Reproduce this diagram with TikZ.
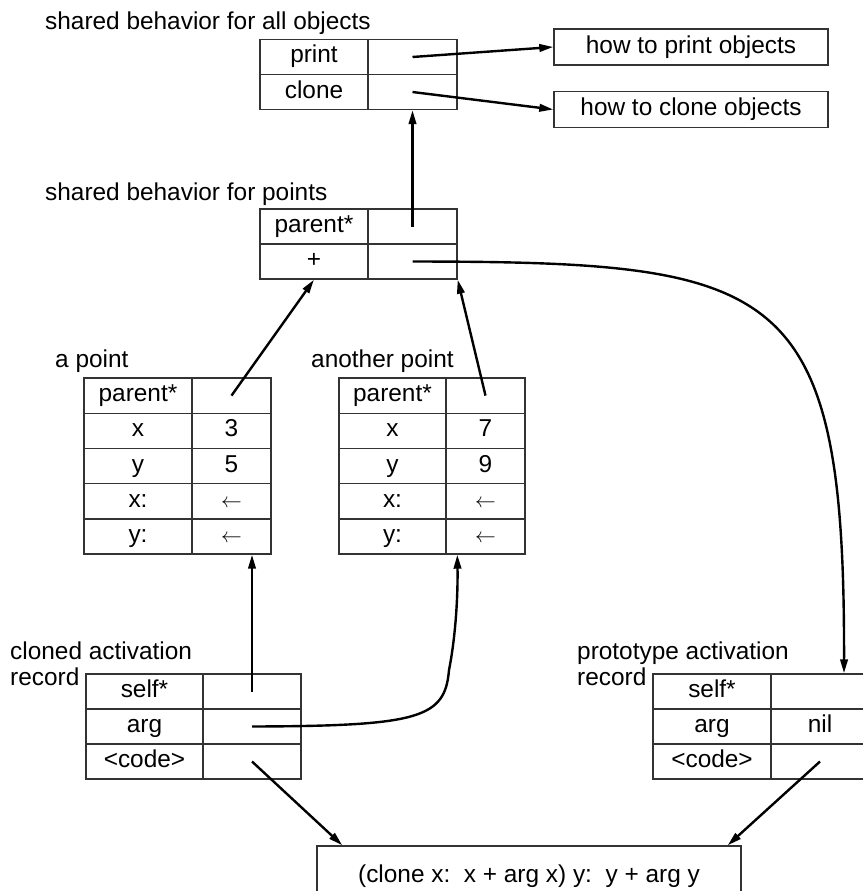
\documentclass[tikz,border=0pt]{standalone}
\usepackage{fontspec}
\setmainfont{Liberation Sans}
\usetikzlibrary{arrows.meta}

% one row of a slot table: name, x left, x middle, x right, y top, y bottom, slot name, slot value
\newcommand\slotrow[8]{%
  \node[cell, minimum width={(#3-#2)*1pt}, minimum height={(#6-#5)*1pt}]
    (#1-k) at ({(#2+#3)/2},{(#5+#6)/2}) {#7};
  \node[cell, minimum width={(#4-#3)*1pt}, minimum height={(#6-#5)*1pt}]
    (#1-v) at ({(#3+#4)/2},{(#5+#6)/2}) {#8};
}
\newcommand\larr{{\fontsize{21}{21}\selectfont$\leftarrow$}}

\begin{document}
\begin{tikzpicture}[x=1pt, y=-1pt,
  every node/.style={font=\fontsize{24.4}{26}\selectfont, text=black},
  cell/.style={draw=black!80, line width=1.4pt, rectangle, inner sep=0pt,
    text height=17pt, text depth=5pt},
  boxnode/.style={draw=black!80, line width=1.4pt, rectangle, inner sep=0pt,
    text height=17pt, text depth=5pt},
  lbl/.style={anchor=base west, inner sep=0pt},
  arr/.style={line width=2.4pt, -{Triangle[length=14pt, width=7.5pt]}}]

\useasboundingbox (0,0) rectangle (862,891);

% shared behavior for all objects
\node[lbl] (l1) at (45,30) {shared behavior for all objects};
\slotrow{ta1}{260}{368}{457}{39.5}{74.5}{print}{}
\slotrow{ta2}{260}{368}{457}{74.5}{109.5}{clone}{}
\node[boxnode, minimum width=274pt, minimum height=36pt] (hp) at (691,47) {how to print objects};
\node[boxnode, minimum width=274pt, minimum height=36pt] (hc) at (691,109.5) {how to clone objects};

% shared behavior for points
\node[lbl] (l2) at (45,200) {shared behavior for points};
\slotrow{tb1}{260}{368}{457}{209}{244}{parent*}{}
\slotrow{tb2}{260}{368}{457}{244}{279}{+}{}

% a point
\node[lbl] (l3) at (55,367) {a point};
\slotrow{tc1}{84}{192}{271}{378}{413.2}{parent*}{}
\slotrow{tc2}{84}{192}{271}{413.2}{448.4}{x}{3}
\slotrow{tc3}{84}{192}{271}{448.4}{483.6}{y}{5}
\slotrow{tc4}{84}{192}{271}{483.6}{518.8}{x:}{\larr}
\slotrow{tc5}{84}{192}{271}{518.8}{554}{y:}{\larr}

% another point
\node[lbl] (l4) at (311,367) {another point};
\slotrow{td1}{339}{446}{525}{378}{413.2}{parent*}{}
\slotrow{td2}{339}{446}{525}{413.2}{448.4}{x}{7}
\slotrow{td3}{339}{446}{525}{448.4}{483.6}{y}{9}
\slotrow{td4}{339}{446}{525}{483.6}{518.8}{x:}{\larr}
\slotrow{td5}{339}{446}{525}{518.8}{554}{y:}{\larr}

% cloned activation record
\node[lbl] (l5a) at (10,659) {cloned activation};
\node[lbl] (l5b) at (10,685) {record};
\slotrow{te1}{86}{203}{301}{674}{709}{self*}{}
\slotrow{te2}{86}{203}{301}{709}{744}{arg}{}
\slotrow{te3}{86}{203}{301}{744}{779}{<code>}{}

% prototype activation record
\node[lbl] (l6a) at (577,659) {prototype activation};
\node[lbl] (l6b) at (577,685) {record};
\slotrow{tf1}{653}{771}{869}{674}{709}{self*}{}
\slotrow{tf2}{653}{771}{869}{709}{744}{arg}{nil}
\slotrow{tf3}{653}{771}{869}{744}{779}{<code>}{}

% method code
\node[boxnode, minimum width=424pt, minimum height=60pt] (code) at (529,876)
  {(clone x:\ \ x + arg x) y:\ \ y + arg y};

% pointers
\draw[arr] (ta1-v.center) -- (hp.west);
\draw[arr] (ta2-v.center) -- (hc.west);
\draw[arr] (tb1-v.center) -- (ta2-v.south);
\draw[arr] (tb2-v.center) .. controls (780,262) and (845,280) .. ([xshift=24pt]tf1-v.north);
\draw[arr] (tc1-v.center) -- (tb2-k.south);
\draw[arr] (td1-v.center) -- (tb2-v.south east);
\draw[arr] (te1-v.center) -- (te1-v.center |- tc5-v.south);
\draw[arr] (te2-v.center) .. controls (420,726) and (445,718) .. (449,670)
  .. controls (455,640) and (458,600) .. ([xshift=12pt]td5-v.south west);
\draw[arr] (te3-v.center) -- ([xshift=26pt]code.north west);
\draw[arr] (tf3-v.center) -- ([xshift=-14pt]code.north east);
\end{tikzpicture}
\end{document}
